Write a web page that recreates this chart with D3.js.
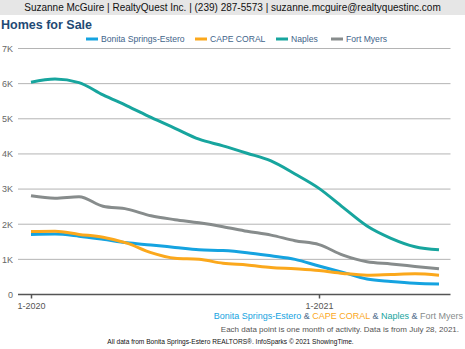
<!DOCTYPE html>
<html>
<head>
<meta charset="utf-8">
<script src="https://cdn.jsdelivr.net/npm/d3@7"></script>
<style>
  body { margin: 0; background: #fff; }
  svg { display: block; font-family: "Liberation Sans", Arial, sans-serif; }
</style>
</head>
<body>
<svg width="465" height="349"></svg>
<script>
  const svgWidth = 465;
  const svgHeight = 349;

  const margin = { top: 48.5, left: 31, bottom: 54.5, right: 26 };

  const months = ["1-2020","2-2020","3-2020","4-2020","5-2020","6-2020","7-2020","8-2020","9-2020","10-2020","11-2020","12-2020",
                  "1-2021","2-2021","3-2021","4-2021","5-2021","6-2021"];
  const xTicks = ["1-2020", "1-2021"];
  const yTicks = [0, 1000, 2000, 3000, 4000, 5000, 6000, 7000];

  const bonita = [1710,1720,1660,1570,1470,1410,1340,1270,1250,1190,1100,1000,810,630,440,370,320,300];
  const capeCoral = [1790,1800,1710,1630,1460,1190,1030,1000,890,840,770,730,680,600,550,570,590,550];
  const naples = [6040,6130,6030,5680,5370,5040,4730,4420,4230,4020,3800,3430,3020,2480,1950,1600,1360,1270];
  const fortMyers = [2810,2740,2780,2510,2430,2240,2130,2040,1930,1800,1690,1530,1420,1120,930,870,800,730];

  const series = [
    { name: "Bonita Springs-Estero", values: bonita, color: "#15a3e0" },
    { name: "CAPE CORAL", values: capeCoral, color: "#fba81c" },
    { name: "Naples", values: naples, color: "#17a59e" },
    { name: "Fort Myers", values: fortMyers, color: "#878c8c" }
  ];

  const svg = d3.select("svg");

  // header band
  svg.append("rect").attr("x", 0).attr("y", 0).attr("width", svgWidth).attr("height", 15).attr("fill", "#e6e6e6");
  svg.append("text")
    .attr("x", 232.5).attr("y", 11)
    .attr("text-anchor", "middle")
    .style("font-size", "10px").style("fill", "#111")
    .text("Suzanne McGuire | RealtyQuest Inc. | (239) 287-5573 | suzanne.mcguire@realtyquestinc.com");

  svg.append("text")
    .attr("x", 1).attr("y", 28.5)
    .style("font-size", "12.5px").style("font-weight", "bold").style("fill", "#1f4a75")
    .text("Homes for Sale");

  // legend
  const legendX = [86, 195, 276, 331];
  const legend = svg.append("g").attr("class", "legend");
  series.forEach((s, i) => {
    const g = legend.append("g").attr("transform", `translate(${legendX[i]},39)`);
    g.append("rect").attr("x", 0).attr("y", -1.5).attr("width", 12).attr("height", 3).attr("fill", s.color);
    g.append("text").attr("x", 15).attr("y", 3)
      .style("font-size", "8.6px").style("fill", "#41648a")
      .text(s.name);
  });

  const xScale = d3.scalePoint().domain(months).range([margin.left, svgWidth - margin.right]);
  const yScale = d3.scaleLinear().domain([0, 7000]).range([svgHeight - margin.bottom, margin.top]);

  const gridLeft = 18, gridRight = 450.5;

  // grid lines
  svg.append("g").attr("class", "grid")
    .selectAll("line")
    .data(yTicks.filter(d => d > 0))
    .enter()
    .append("line")
    .attr("x1", gridLeft).attr("x2", gridRight)
    .attr("y1", d => yScale(d)).attr("y2", d => yScale(d))
    .attr("stroke", "#b4b4b4").attr("stroke-width", 1);

  const yAxis = d3.axisLeft(yScale)
    .tickValues(yTicks)
    .tickSize(0)
    .tickPadding(0)
    .tickFormat(d => d === 0 ? "0" : d / 1000 + "K");

  svg.append("g")
    .attr("class", "yAxis")
    .attr("transform", "translate(13,0)")
    .call(yAxis)
    .call(g => g.select(".domain").remove())
    .selectAll("text")
    .style("font-size", "9px").style("fill", "#666")
    .style("font-family", "Liberation Sans, Arial, sans-serif");

  // baseline + ticks
  const xAxis = d3.axisBottom(xScale).tickValues(xTicks).tickSize(4).tickPadding(4);
  const xg = svg.append("g")
    .attr("class", "xAxis")
    .attr("transform", `translate(0,${yScale(0)})`)
    .call(xAxis);
  xg.select(".domain").remove();
  xg.insert("line", ":first-child")
    .attr("x1", gridLeft).attr("x2", gridRight)
    .attr("stroke", "#555").attr("stroke-width", 1.5);
  xg.selectAll(".tick line").attr("stroke", "#555").attr("stroke-width", 1.5);
  xg.selectAll("text").style("font-size", "9px").style("fill", "#555")
    .style("font-family", "Liberation Sans, Arial, sans-serif");

  const line = d3.line()
    .x((d, i) => xScale(months[i]))
    .y(d => yScale(d))
    .curve(d3.curveMonotoneX);

  // draw back to front: Naples and Fort Myers behind, Bonita, then Cape Coral on top
  const order = [2, 3, 0, 1];
  svg.append("g").attr("class", "lines")
    .selectAll("path")
    .data(order.map(i => series[i]))
    .enter()
    .append("path")
    .attr("d", d => line(d.values))
    .attr("fill", "none")
    .attr("stroke", d => d.color)
    .attr("stroke-width", 3)
    .attr("stroke-linejoin", "round")
    .attr("stroke-linecap", "butt");

  // footer
  const names = svg.append("text")
    .attr("x", 463).attr("y", 319)
    .attr("text-anchor", "end")
    .style("font-size", "9px");
  series.forEach((s, i) => {
    names.append("tspan").style("fill", s.color).text(s.name);
    if (i < series.length - 1) names.append("tspan").style("fill", "#4d6a8a").text(" & ");
  });

  svg.append("text")
    .attr("x", 459).attr("y", 331.5)
    .attr("text-anchor", "end")
    .style("font-size", "8px").style("fill", "#555")
    .text("Each data point is one month of activity. Data is from July 28, 2021.");

  svg.append("text")
    .attr("x", 230.5).attr("y", 344)
    .attr("text-anchor", "middle")
    .style("font-size", "6.6px").style("fill", "#111")
    .text("All data from Bonita Springs-Estero REALTORS®. InfoSparks © 2021 ShowingTime.");
</script>
</body>
</html>
